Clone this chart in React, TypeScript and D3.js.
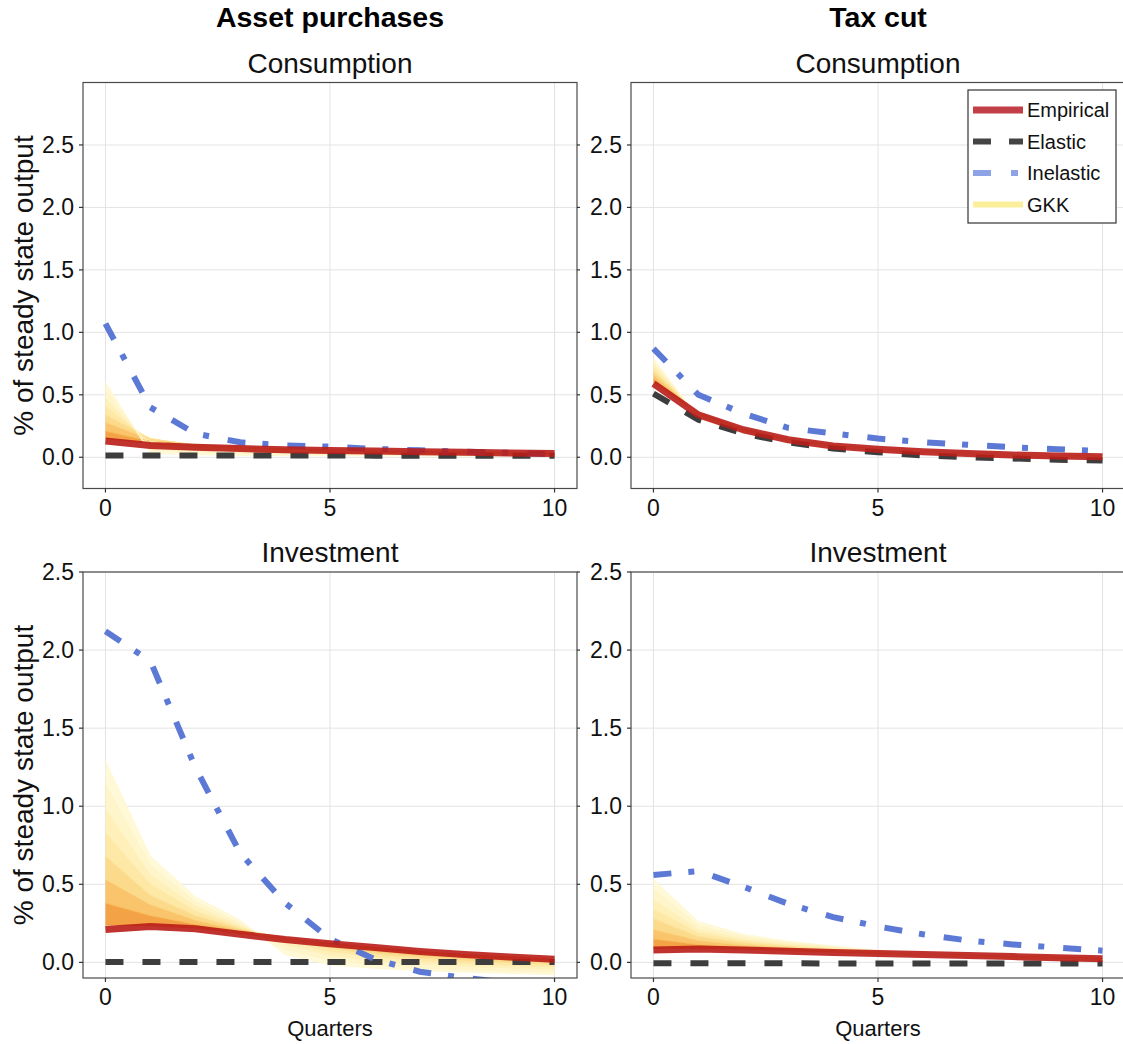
import React from 'react';
import * as d3 from 'd3';

// Horizon in quarters after the shock
const quarters = [0, 1, 2, 3, 4, 5, 6, 7, 8, 9, 10];
const xTicks = [0, 5, 10];
const yTicks = [0, 0.5, 1, 1.5, 2, 2.5];

// Asset purchases — consumption
const apConsEmpirical = [0.13, 0.095, 0.08, 0.07, 0.06, 0.055, 0.05, 0.045, 0.04, 0.035, 0.03];
const apConsElastic = [0.015, 0.015, 0.015, 0.015, 0.014, 0.014, 0.013, 0.013, 0.012, 0.012, 0.012];
const apConsInelastic = [1.07, 0.4, 0.19, 0.12, 0.095, 0.085, 0.067, 0.056, 0.045, 0.035, 0.025];
const apConsGKK = [
  [0.15, 0.11, 0.09, 0.077, 0.066, 0.058, 0.051, 0.045, 0.04, 0.035, 0.03],
  [0.21, 0.13, 0.1, 0.08, 0.066, 0.056, 0.048, 0.042, 0.037, 0.032, 0.027],
  [0.28, 0.145, 0.1, 0.078, 0.062, 0.052, 0.044, 0.038, 0.033, 0.029, 0.025],
  [0.34, 0.15, 0.095, 0.07, 0.055, 0.045, 0.038, 0.033, 0.029, 0.025, 0.022],
  [0.41, 0.13, 0.08, 0.06, 0.047, 0.038, 0.032, 0.028, 0.025, 0.022, 0.019],
  [0.47, 0.1, 0.06, 0.045, 0.036, 0.03, 0.026, 0.023, 0.02, 0.018, 0.016],
  [0.54, 0.06, 0.04, 0.03, 0.025, 0.021, 0.018, 0.016, 0.015, 0.014, 0.013],
  [0.6, 0.03, 0.02, 0.016, 0.014, 0.012, 0.011, 0.01, 0.01, 0.01, 0.01],
];

// Tax cut — consumption
const tcConsEmpirical = [0.59, 0.34, 0.22, 0.14, 0.09, 0.064, 0.045, 0.03, 0.018, 0.01, 0.005];
const tcConsElastic = [0.51, 0.3, 0.19, 0.12, 0.07, 0.04, 0.015, 0.0, -0.01, -0.02, -0.025];
const tcConsInelastic = [0.87, 0.5, 0.35, 0.235, 0.19, 0.15, 0.12, 0.1, 0.08, 0.065, 0.05];
const tcConsGKK = [
  [0.6, 0.355, 0.225, 0.143, 0.092, 0.064, 0.045, 0.031, 0.019, 0.011, 0.006],
  [0.63, 0.355, 0.222, 0.141, 0.091, 0.063, 0.044, 0.03, 0.018, 0.011, 0.006],
  [0.66, 0.35, 0.218, 0.139, 0.09, 0.062, 0.043, 0.03, 0.018, 0.01, 0.005],
  [0.69, 0.345, 0.214, 0.137, 0.089, 0.061, 0.042, 0.029, 0.018, 0.01, 0.005],
  [0.72, 0.34, 0.21, 0.135, 0.088, 0.06, 0.042, 0.029, 0.017, 0.01, 0.005],
  [0.745, 0.33, 0.205, 0.132, 0.086, 0.059, 0.041, 0.028, 0.017, 0.01, 0.004],
  [0.77, 0.32, 0.2, 0.13, 0.085, 0.058, 0.04, 0.028, 0.017, 0.009, 0.004],
  [0.79, 0.31, 0.195, 0.128, 0.084, 0.057, 0.04, 0.027, 0.016, 0.009, 0.004],
];

// Asset purchases — investment
const apInvEmpirical = [0.21, 0.23, 0.215, 0.18, 0.146, 0.12, 0.095, 0.07, 0.05, 0.035, 0.02];
const apInvElastic = [0.003, 0.003, 0.003, 0.003, 0.003, 0.003, 0.003, 0.003, 0.003, 0.003, 0.003];
const apInvInelastic = [2.12, 1.93, 1.25, 0.7, 0.38, 0.15, 0.02, -0.06, -0.1, -0.13, -0.15];
const apInvGKK = [
  [0.24, 0.235, 0.22, 0.185, 0.15, 0.122, 0.096, 0.07, 0.05, 0.035, 0.02],
  [0.38, 0.3, 0.245, 0.195, 0.155, 0.115, 0.085, 0.058, 0.038, 0.024, 0.01],
  [0.53, 0.37, 0.27, 0.205, 0.16, 0.105, 0.07, 0.044, 0.025, 0.012, 0.0],
  [0.68, 0.43, 0.3, 0.215, 0.155, 0.09, 0.055, 0.028, 0.01, -0.002, -0.012],
  [0.83, 0.5, 0.33, 0.225, 0.14, 0.07, 0.035, 0.01, -0.008, -0.018, -0.026],
  [0.98, 0.56, 0.36, 0.235, 0.115, 0.045, 0.012, -0.01, -0.025, -0.035, -0.042],
  [1.14, 0.62, 0.39, 0.25, 0.085, 0.015, -0.015, -0.035, -0.047, -0.055, -0.06],
  [1.29, 0.68, 0.42, 0.27, 0.05, -0.015, -0.038, -0.052, -0.062, -0.07, -0.078],
];

// Tax cut — investment
const tcInvEmpirical = [0.08, 0.085, 0.08, 0.072, 0.064, 0.057, 0.05, 0.044, 0.037, 0.03, 0.024];
const tcInvElastic = [-0.005, -0.006, -0.006, -0.006, -0.007, -0.007, -0.007, -0.007, -0.007, -0.007, -0.007];
const tcInvInelastic = [0.56, 0.585, 0.485, 0.375, 0.29, 0.23, 0.18, 0.14, 0.115, 0.095, 0.075];
const tcInvGKK = [
  [0.09, 0.09, 0.085, 0.076, 0.067, 0.059, 0.052, 0.045, 0.038, 0.031, 0.025],
  [0.15, 0.115, 0.098, 0.084, 0.072, 0.062, 0.052, 0.044, 0.036, 0.029, 0.023],
  [0.21, 0.14, 0.11, 0.092, 0.077, 0.064, 0.052, 0.042, 0.034, 0.027, 0.021],
  [0.28, 0.165, 0.125, 0.1, 0.082, 0.066, 0.052, 0.041, 0.032, 0.024, 0.018],
  [0.34, 0.19, 0.138, 0.108, 0.088, 0.069, 0.052, 0.04, 0.03, 0.021, 0.015],
  [0.4, 0.21, 0.15, 0.116, 0.094, 0.072, 0.052, 0.038, 0.027, 0.018, 0.012],
  [0.47, 0.235, 0.165, 0.125, 0.1, 0.074, 0.051, 0.036, 0.024, 0.016, 0.01],
  [0.53, 0.26, 0.18, 0.135, 0.105, 0.076, 0.05, 0.034, 0.022, 0.014, 0.008],
];

const columnTitles = ['Asset purchases', 'Tax cut'];
const legendLabels = ['Empirical', 'Elastic', 'Inelastic', 'GKK'];

const FONT = "'Liberation Sans', Arial, Helvetica, sans-serif";
const W = 1123;
const H = 1044;
const PANEL_W = 494;
const PANEL_H = 406;
const COL_X = [83, 631];
const ROW_Y = [82.5, 572];

const RED = '#b91d18';
const GREY = '#3d3d3d';
const BLUE = '#5472d4';
// orange next to the empirical response, fading to pale yellow for the outer curves
const fanColor = d3.interpolateRgbBasis(['#f39a36', '#f9c25e', '#fde394', '#fff0b8', '#fff8d4']);

const panels = [
  { id: 'apc', col: 0, row: 0, title: 'Consumption', yDomain: [-0.25, 3], empirical: apConsEmpirical, elastic: apConsElastic, inelastic: apConsInelastic, gkk: apConsGKK },
  { id: 'tcc', col: 1, row: 0, title: 'Consumption', yDomain: [-0.25, 3], empirical: tcConsEmpirical, elastic: tcConsElastic, inelastic: tcConsInelastic, gkk: tcConsGKK },
  { id: 'api', col: 0, row: 1, title: 'Investment', yDomain: [-0.1, 2.5], empirical: apInvEmpirical, elastic: apInvElastic, inelastic: apInvInelastic, gkk: apInvGKK },
  { id: 'tci', col: 1, row: 1, title: 'Investment', yDomain: [-0.1, 2.5], empirical: tcInvEmpirical, elastic: tcInvElastic, inelastic: tcInvInelastic, gkk: tcInvGKK },
];

function Panel({ p }: { p: any }) {
  const x0 = COL_X[p.col];
  const y0 = ROW_Y[p.row];
  const x1 = x0 + PANEL_W;
  const y1 = y0 + PANEL_H;
  const x = d3.scaleLinear().domain([-0.5, 10.5]).range([x0, x1]);
  const y = d3.scaleLinear().domain(p.yDomain).range([y1, y0]);
  const line = d3
    .line<number>()
    .x((_, i) => x(quarters[i]))
    .y((v) => y(v));
  const band = (lo: number[], hi: number[]) =>
    d3
      .area<number>()
      .x((q) => x(q))
      .y0((_, i) => y(lo[i]))
      .y1((_, i) => y(hi[i]))(quarters) as string;
  const n = p.gkk.length;
  const clipId = `clip-${p.id}`;
  const tickY = yTicks.filter((t) => t >= p.yDomain[0] && t <= p.yDomain[1]);
  const bandColor = (i: number) => fanColor(Math.pow(i / (n - 2), 0.8));
  const curveColor = (j: number) => fanColor(Math.pow(j / (n - 1), 0.8));

  return (
    <g>
      <defs>
        <clipPath id={clipId}>
          <rect x={x0} y={y0} width={PANEL_W} height={PANEL_H} />
        </clipPath>
      </defs>
      <rect x={x0} y={y0} width={PANEL_W} height={PANEL_H} fill="#fff" />
      {/* grid */}
      {tickY.map((t) => (
        <line key={`gy${t}`} x1={x0} x2={x1} y1={y(t)} y2={y(t)} stroke="#e3e3e3" strokeWidth={1} />
      ))}
      {xTicks.map((t) => (
        <line key={`gx${t}`} x1={x(t)} x2={x(t)} y1={y0} y2={y1} stroke="#e3e3e3" strokeWidth={1} />
      ))}
      <g clipPath={`url(#${clipId})`}>
        {/* GKK fan: bands between neighbouring curves, then the curves themselves */}
        {d3.range(n - 1).map((i) => (
          <path key={`b${i}`} d={band(p.gkk[i], p.gkk[i + 1])} fill={bandColor(i)} fillOpacity={0.92} stroke="none" />
        ))}
        {p.gkk.map((c: number[], j: number) => (
          <path key={`c${j}`} d={line(c) as string} fill="none" stroke={curveColor(j)} strokeWidth={1} />
        ))}
        <path d={line(p.elastic) as string} fill="none" stroke={GREY} strokeWidth={6} strokeDasharray="18 19" />
        <path d={line(p.inelastic) as string} fill="none" stroke={BLUE} strokeWidth={6} strokeDasharray="18 17 6 19" opacity={0.95} />
        <path d={line(p.empirical) as string} fill="none" stroke={RED} strokeWidth={7} opacity={0.9} strokeLinejoin="round" />
      </g>
      {/* frame */}
      <rect x={x0} y={y0} width={PANEL_W} height={PANEL_H} fill="none" stroke="#4a4a4a" strokeWidth={1.2} />
      {tickY.map((t) => (
        <g key={`ty${t}`}>
          <line x1={x0 - 4} x2={x0} y1={y(t)} y2={y(t)} stroke="#333" strokeWidth={1.2} />
          <line x1={x1} x2={x1 + 3} y1={y(t)} y2={y(t)} stroke="#333" strokeWidth={1.2} />
          <text x={x0 - 9} y={y(t)} dy="0.35em" textAnchor="end" fontSize={23} fontFamily={FONT} fill="#111">
            {d3.format('.1f')(t)}
          </text>
        </g>
      ))}
      {xTicks.map((t) => (
        <g key={`tx${t}`}>
          <line x1={x(t)} x2={x(t)} y1={y1} y2={y1 + 4} stroke="#333" strokeWidth={1.2} />
          <text x={x(t)} y={y1 + 27} textAnchor="middle" fontSize={23} fontFamily={FONT} fill="#111">
            {t}
          </text>
        </g>
      ))}
      <text x={(x0 + x1) / 2} y={y0 - 10} textAnchor="middle" fontSize={28} fontFamily={FONT} fill="#111">
        {p.title}
      </text>
      {p.col === 0 && (
        <text
          transform={`translate(33,${(y0 + y1) / 2}) rotate(-90)`}
          textAnchor="middle"
          fontSize={28}
          fontFamily={FONT}
          fill="#111"
        >
          % of steady state output
        </text>
      )}
      {p.row === 1 && (
        <text x={(x0 + x1) / 2} y={1036} textAnchor="middle" fontSize={22} fontFamily={FONT} fill="#111">
          Quarters
        </text>
      )}
    </g>
  );
}

function Legend() {
  const lx = 968;
  const ly = 90;
  const rowY = [110, 141.5, 173, 204.5];
  const styles = [
    { stroke: '#c23f48', width: 7, dash: undefined },
    { stroke: '#444', width: 6, dash: '18 18' },
    { stroke: '#8ea2e6', width: 6, dash: '18 20 7 20' },
    { stroke: '#fcef9c', width: 6, dash: undefined },
  ];
  return (
    <g>
      <rect x={lx} y={ly} width={148} height={133} fill="#fff" stroke="#333" strokeWidth={1.2} />
      {legendLabels.map((label, i) => (
        <g key={label}>
          <line x1={973} x2={1023} y1={rowY[i]} y2={rowY[i]} stroke={styles[i].stroke} strokeWidth={styles[i].width} strokeDasharray={styles[i].dash} />
          <text x={1027} y={rowY[i]} dy="0.35em" fontSize={20} fontFamily={FONT} fill="#111">
            {label}
          </text>
        </g>
      ))}
    </g>
  );
}

export default function App() {
  return (
    <svg
      width={W}
      height={H}
      viewBox={`0 0 ${W} ${H}`}
      style={{ position: 'absolute', left: 0, top: 0, display: 'block', background: '#fff' }}
    >
      <rect x={0} y={0} width={W} height={H} fill="#fff" />
      {columnTitles.map((t, i) => (
        <text key={t} x={COL_X[i] + PANEL_W / 2} y={27} textAnchor="middle" fontSize={28.5} fontWeight="bold" fontFamily={FONT} fill="#000">
          {t}
        </text>
      ))}
      {panels.map((p) => (
        <Panel key={p.id} p={p} />
      ))}
      <Legend />
    </svg>
  );
}
